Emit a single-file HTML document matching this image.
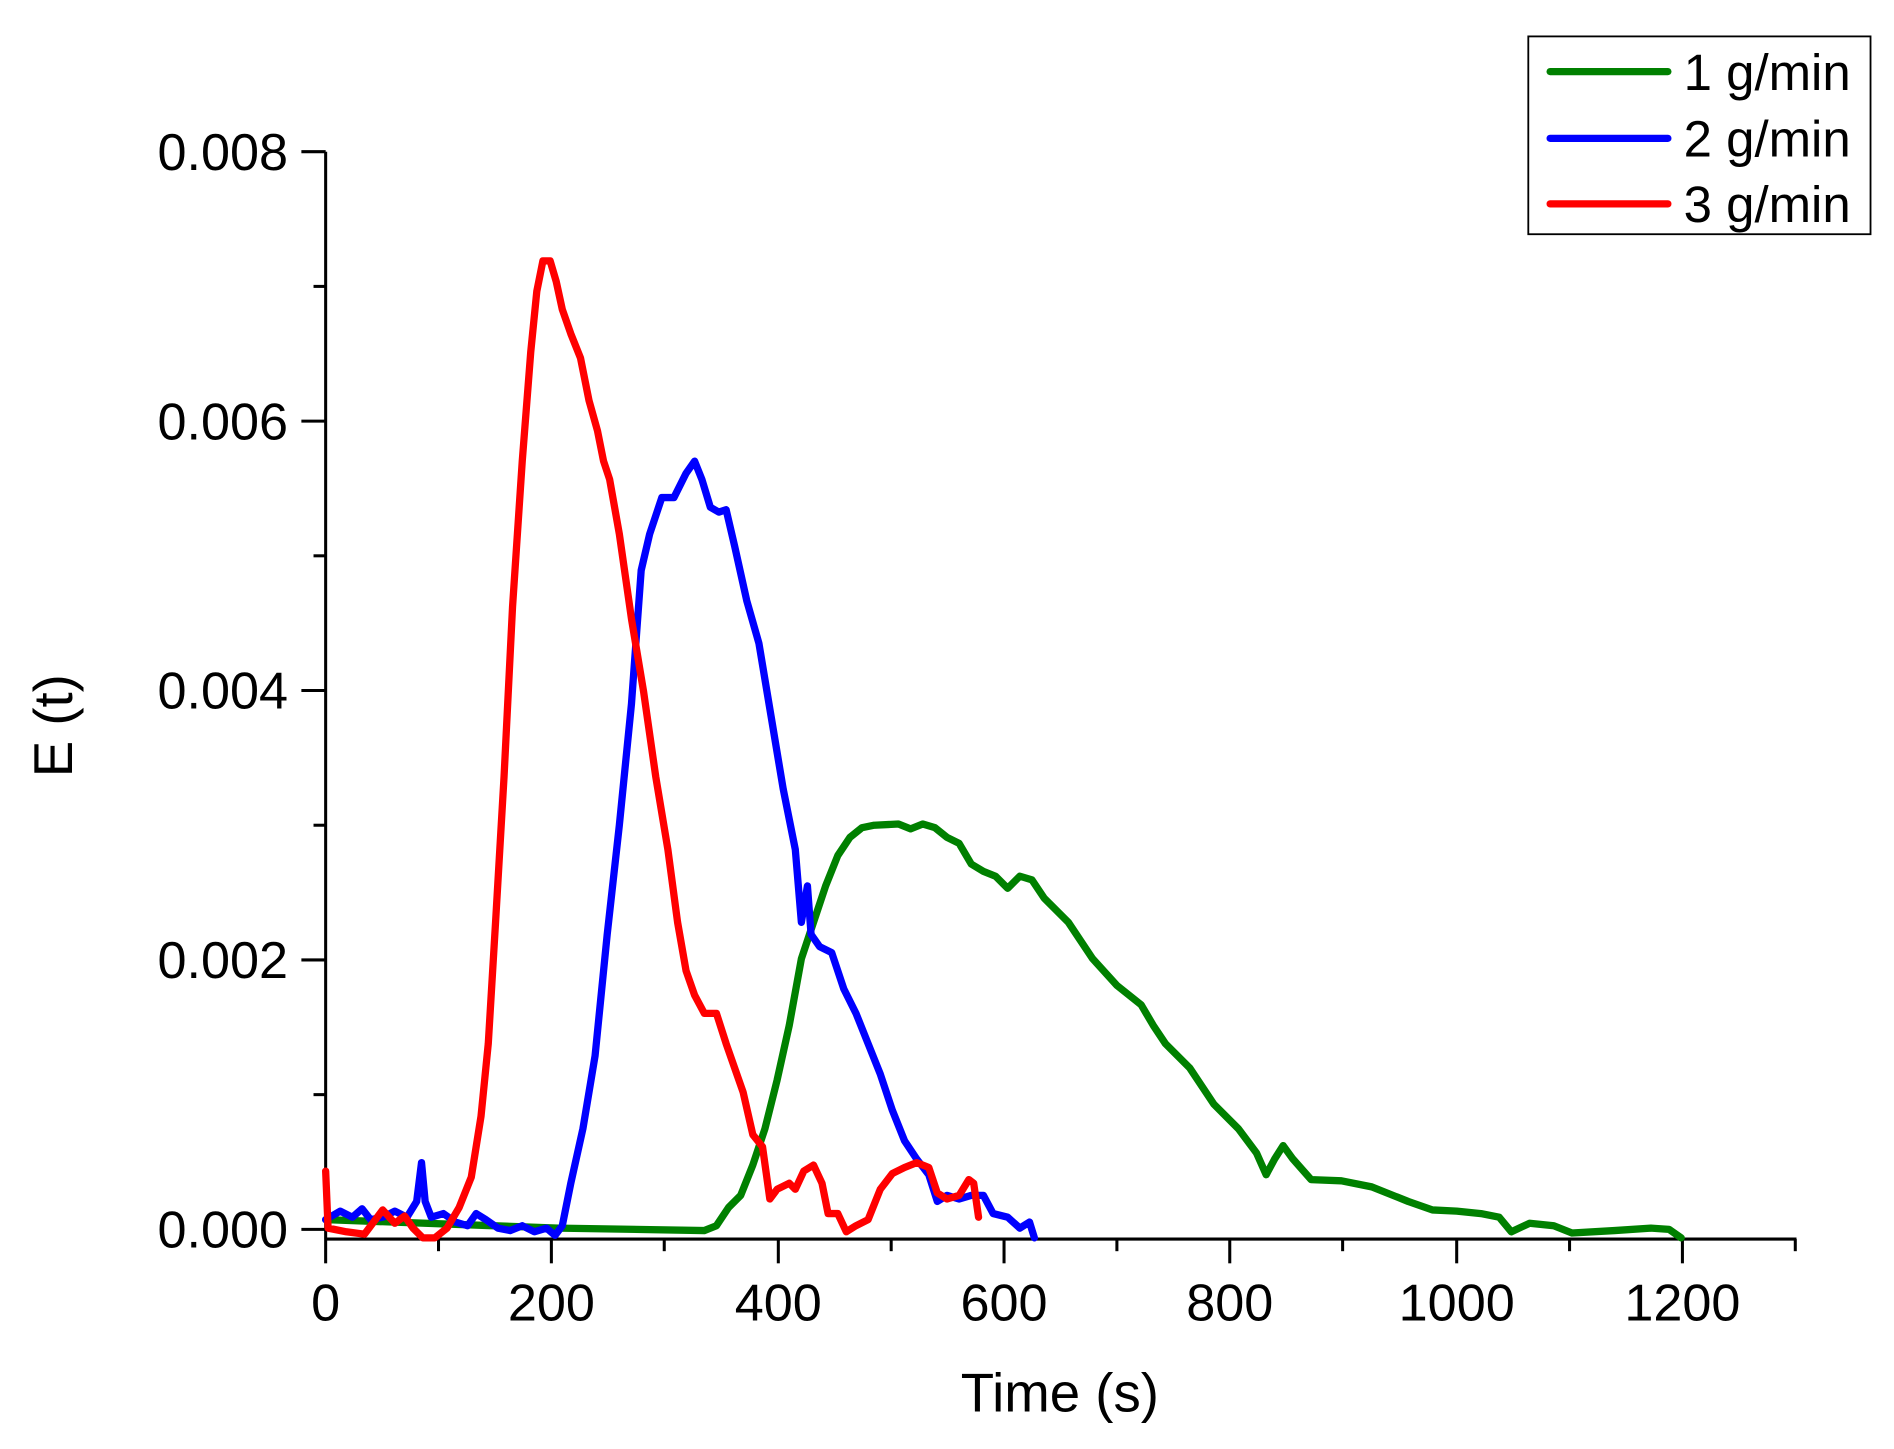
<!DOCTYPE html>
<html><head><style>html,body{margin:0;padding:0;background:#fff}svg{display:block}</style></head>
<body>
<svg width="1894" height="1449" viewBox="0 0 1560 1194" xmlns="http://www.w3.org/2000/svg" font-family="Liberation Sans, sans-serif">
<rect width="1560" height="1194" fill="#fff"/>
<g stroke="#000" stroke-width="2.5" fill="none">
<line x1="268" y1="125" x2="268" y2="1021"/>
<line x1="267" y1="1021" x2="1480" y2="1021"/>
<line x1="248" y1="125" x2="268" y2="125"/>
<line x1="248" y1="347" x2="268" y2="347"/>
<line x1="248" y1="569" x2="268" y2="569"/>
<line x1="248" y1="791" x2="268" y2="791"/>
<line x1="248" y1="1013" x2="268" y2="1013"/>
<line x1="258" y1="236" x2="268" y2="236"/>
<line x1="258" y1="458" x2="268" y2="458"/>
<line x1="258" y1="680" x2="268" y2="680"/>
<line x1="258" y1="902" x2="268" y2="902"/>
<line x1="268" y1="1021" x2="268" y2="1041"/>
<line x1="454" y1="1021" x2="454" y2="1041"/>
<line x1="641" y1="1021" x2="641" y2="1041"/>
<line x1="827" y1="1021" x2="827" y2="1041"/>
<line x1="1013" y1="1021" x2="1013" y2="1041"/>
<line x1="1200" y1="1021" x2="1200" y2="1041"/>
<line x1="1386" y1="1021" x2="1386" y2="1041"/>
<line x1="361" y1="1021" x2="361" y2="1031"/>
<line x1="547" y1="1021" x2="547" y2="1031"/>
<line x1="734" y1="1021" x2="734" y2="1031"/>
<line x1="920" y1="1021" x2="920" y2="1031"/>
<line x1="1106" y1="1021" x2="1106" y2="1031"/>
<line x1="1293" y1="1021" x2="1293" y2="1031"/>
<line x1="1479" y1="1021" x2="1479" y2="1031"/>
</g>
<g font-size="43" fill="#000" text-anchor="end">
<text x="237" y="140">0.008</text>
<text x="237" y="362">0.006</text>
<text x="237" y="584">0.004</text>
<text x="237" y="806">0.002</text>
<text x="237" y="1028">0.000</text>
</g>
<g font-size="43" fill="#000" text-anchor="middle">
<text x="268" y="1088">0</text>
<text x="454" y="1088">200</text>
<text x="641" y="1088">400</text>
<text x="827" y="1088">600</text>
<text x="1013" y="1088">800</text>
<text x="1200" y="1088">1000</text>
<text x="1386" y="1088">1200</text>
<text x="873" y="1163" font-size="45">Time (s)</text>
<text transform="translate(59,598) rotate(-90)" font-size="45">E (t)</text>
</g>
<g fill="none" stroke-width="6" stroke-linejoin="round" stroke-linecap="round">
<polyline stroke="#008000" points="268,1005 460,1012 580,1014 590,1010 600,995 610,985 620,960 630,930 640,890 650,845 660,790 670,760 680,730 690,705 700,690 710,682 720,680 740,679 750,683 760,679 770,682 780,690 790,695 800,712 810,718 820,722 830,732 840,722 850,725 860,740 880,760 900,790 920,812 940,828 950,845 960,860 980,880 1000,910 1020,930 1035,950 1043,968 1050,955 1057,944 1065,955 1080,972 1105,973 1130,978 1160,990 1180,997 1200,998 1220,1000 1235,1003 1245,1015 1260,1008 1280,1010 1295,1016 1330,1014 1360,1012 1375,1013 1385,1020"/>
<polyline stroke="#0000ff" points="268,1005 280,998 290,1003 298,996 305,1005 315,1003 325,998 335,1003 343,990 347,958 350,990 355,1003 365,1000 375,1007 385,1010 392,1000 400,1005 410,1012 420,1014 430,1010 440,1015 450,1012 457,1018 463,1010 470,975 480,930 490,870 500,770 510,680 520,580 528,470 535,440 545,410 555,410 565,390 572,380 578,395 585,418 592,422 598,420 605,450 615,495 625,530 635,590 645,650 655,700 660,760 665,730 668,770 675,780 685,785 695,815 705,835 715,860 725,885 735,915 745,940 755,955 765,968 772,990 780,985 790,988 800,985 810,985 818,1000 830,1003 840,1012 848,1007 852,1020"/>
<polyline stroke="#ff0000" points="268,965 270,1012 285,1015 300,1017 315,997 325,1008 333,1002 340,1012 348,1020 358,1020 368,1012 378,995 388,970 396,920 402,860 408,760 415,640 422,500 430,380 437,290 442,240 447,215 453,215 458,232 463,255 470,275 478,295 485,330 492,355 497,380 502,395 510,440 520,510 530,570 540,640 550,700 558,760 565,800 572,820 580,835 590,835 598,860 605,880 612,900 620,935 628,945 634,988 640,980 650,975 655,980 662,965 670,960 677,975 682,1000 690,1000 697,1015 705,1010 715,1005 725,980 735,967 745,962 755,958 765,962 772,983 780,988 790,985 798,972 802,975 806,1003"/>
</g>
<rect x="1259" y="30" width="282" height="163" fill="#fff" stroke="#000" stroke-width="1.5"/>
<g stroke-width="6" stroke-linecap="round">
<line x1="1277" y1="59" x2="1374" y2="59" stroke="#008000"/>
<line x1="1277" y1="114" x2="1374" y2="114" stroke="#0000ff"/>
<line x1="1277" y1="168" x2="1374" y2="168" stroke="#ff0000"/>
</g>
<g font-size="42" fill="#000">
<text x="1387" y="74">1 g/min</text>
<text x="1387" y="129">2 g/min</text>
<text x="1387" y="183">3 g/min</text>
</g>
</svg>
</body></html>
